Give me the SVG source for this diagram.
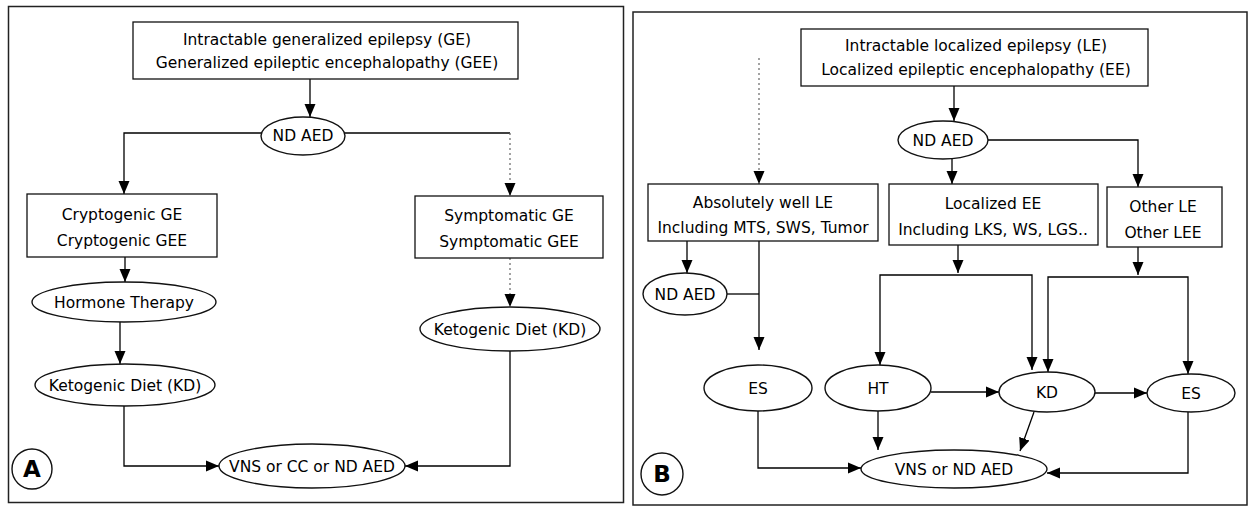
<svg xmlns="http://www.w3.org/2000/svg" width="1254" height="510" viewBox="0 0 1254 510">
<defs>
<marker id="ah" markerUnits="userSpaceOnUse" markerWidth="13" markerHeight="12" viewBox="0 0 13 11" refX="13" refY="5.5" orient="auto"><path d="M0,0 L13,5.5 L0,11 z" fill="#000"/></marker>
</defs>
<style>
.frame{fill:none;stroke:#222;stroke-width:1.5}
.box{fill:#fff;stroke:#111;stroke-width:1.3}
.ell{fill:#fff;stroke:#111;stroke-width:1.4}
.t{font-family:"DejaVu Sans",sans-serif;font-size:15.5px;fill:#000;text-anchor:middle}
.lbl{font-family:"DejaVu Sans",sans-serif;font-size:23px;font-weight:bold;fill:#000;text-anchor:middle}
.c{fill:none;stroke:#000;stroke-width:1.3}
.ca{fill:none;stroke:#000;stroke-width:1.3;marker-end:url(#ah)}
.cd{fill:none;stroke:#666;stroke-width:1.2;stroke-dasharray:2 3;marker-end:url(#ah)}
</style>
<rect class="frame" x="8.5" y="6.5" width="615" height="496"/>
<rect class="frame" x="633" y="12" width="614" height="493"/>
<g id="connectors">
<path class="ca" d="M310,79 V117"/>
<path class="ca" d="M262,133 H124 V194"/>
<path class="c" d="M345,133 H510"/>
<path class="cd" d="M510,133 V196"/>
<path class="ca" d="M125,257 V282"/>
<path class="ca" d="M120,322 V364"/>
<path class="cd" d="M510,258 V307"/>
<path class="ca" d="M124,406 V466 H219"/>
<path class="ca" d="M510,351 V466 H405"/>
<path class="ca" d="M954,86 V121"/>
<path class="ca" d="M988,140 H1138 V187"/>
<path class="ca" d="M952,159 V184"/>
<path class="cd" d="M759,58 V184"/>
<path class="ca" d="M687,241 V273"/>
<path class="ca" d="M759,241 V350"/>
<path class="c" d="M727,294 H759"/>
<path class="ca" d="M958,245 V273"/>
<path class="ca" d="M958,275 H880 V365"/>
<path class="ca" d="M958,275 H1032 V370"/>
<path class="ca" d="M1138,247 V275"/>
<path class="ca" d="M1138,277 H1048 V372"/>
<path class="ca" d="M1138,277 H1188 V374"/>
<path class="ca" d="M931,392 H999"/>
<path class="ca" d="M1095,393 H1147"/>
<path class="ca" d="M878,411 V450"/>
<path class="ca" d="M1034,412 L1020,451"/>
<path class="ca" d="M758,411 V468 H861"/>
<path class="ca" d="M1188,412 V473 H1047"/>
</g>
<g id="a-top"><rect class="box" x="133" y="22" width="385" height="57"/><text class="t" x="327" y="45">Intractable generalized epilepsy (GE)</text><text class="t" x="327" y="68">Generalized epileptic encephalopathy (GEE)</text></g>
<g id="a-ndaed"><ellipse class="ell" cx="303" cy="136" rx="42" ry="19"/><text class="t" x="303" y="141">ND AED</text></g>
<g id="a-crypto"><rect class="box" x="27" y="194" width="190" height="63"/><text class="t" x="122" y="220">Cryptogenic GE</text><text class="t" x="122" y="246">Cryptogenic GEE</text></g>
<g id="a-sympt"><rect class="box" x="415" y="196" width="188" height="62"/><text class="t" x="509" y="221">Symptomatic GE</text><text class="t" x="509" y="247">Symptomatic GEE</text></g>
<g id="a-hormone"><ellipse class="ell" cx="124" cy="302" rx="92" ry="20"/><text class="t" x="124" y="308">Hormone Therapy</text></g>
<g id="a-kd1"><ellipse class="ell" cx="125" cy="385" rx="90" ry="21"/><text class="t" x="125" y="391">Ketogenic Diet (KD)</text></g>
<g id="a-kd2"><ellipse class="ell" cx="510" cy="329" rx="90" ry="22"/><text class="t" x="510" y="335">Ketogenic Diet (KD)</text></g>
<g id="a-vns"><ellipse class="ell" cx="312" cy="466" rx="93" ry="22"/><text class="t" x="312" y="472">VNS or CC or ND AED</text></g>
<g id="a-label"><circle class="ell" cx="32" cy="469" r="20"/><text class="lbl" x="32" y="477">A</text></g>
<g id="b-top"><rect class="box" x="801" y="29" width="347" height="57"/><text class="t" x="976" y="51">Intractable localized epilepsy (LE)</text><text class="t" x="976" y="75">Localized epileptic encephalopathy (EE)</text></g>
<g id="b-ndaed"><ellipse class="ell" cx="943" cy="140" rx="45" ry="19"/><text class="t" x="943" y="146">ND AED</text></g>
<g id="b-abs"><rect class="box" x="648" y="184" width="230" height="57"/><text class="t" x="763" y="208">Absolutely well LE</text><text class="t" x="763" y="233">Including MTS, SWS, Tumor</text></g>
<g id="b-loc"><rect class="box" x="889" y="184" width="209" height="61"/><text class="t" x="993" y="209">Localized EE</text><text class="t" x="993" y="235">Including LKS, WS, LGS..</text></g>
<g id="b-other"><rect class="box" x="1107" y="187" width="115" height="60"/><text class="t" x="1163" y="212">Other LE</text><text class="t" x="1163" y="238">Other LEE</text></g>
<g id="b-ndaed2"><ellipse class="ell" cx="685" cy="294" rx="42" ry="21"/><text class="t" x="685" y="300">ND AED</text></g>
<g id="b-es1"><ellipse class="ell" cx="758" cy="388" rx="54" ry="23"/><text class="t" x="758" y="394">ES</text></g>
<g id="b-ht"><ellipse class="ell" cx="878" cy="388" rx="53" ry="23"/><text class="t" x="878" y="394">HT</text></g>
<g id="b-kd"><ellipse class="ell" cx="1047" cy="392" rx="48" ry="20"/><text class="t" x="1047" y="398">KD</text></g>
<g id="b-es2"><ellipse class="ell" cx="1191" cy="393" rx="44" ry="19"/><text class="t" x="1191" y="399">ES</text></g>
<g id="b-vns"><ellipse class="ell" cx="954" cy="469" rx="93" ry="19"/><text class="t" x="954" y="475">VNS or ND AED</text></g>
<g id="b-label"><circle class="ell" cx="662" cy="474" r="21"/><text class="lbl" x="662" y="482">B</text></g>
</svg>
